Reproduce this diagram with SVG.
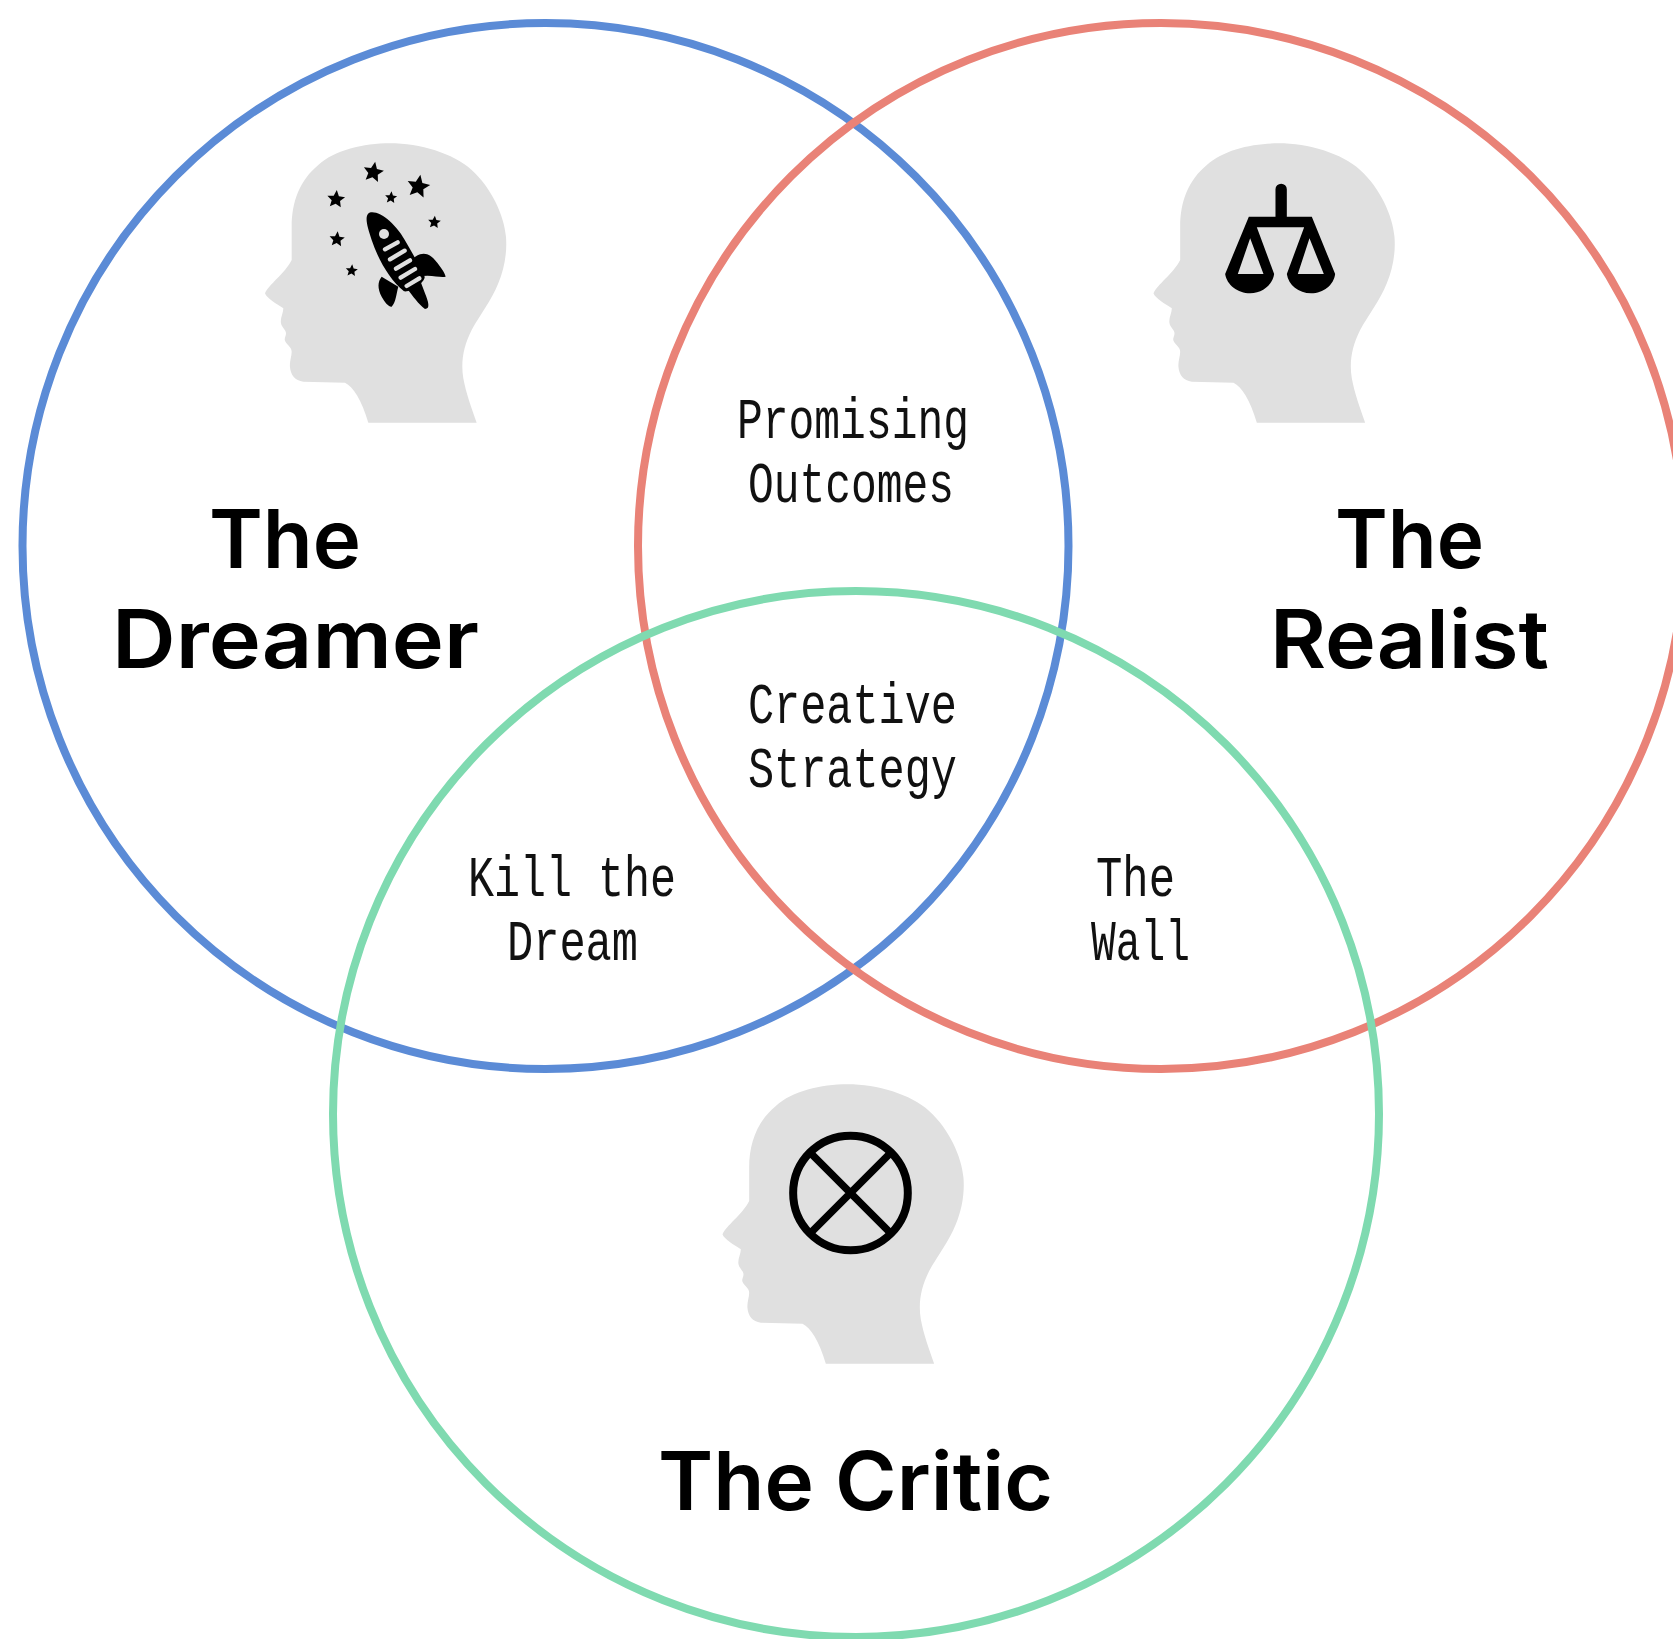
<svg xmlns="http://www.w3.org/2000/svg" width="1673" height="1639" viewBox="0 0 1673 1639">
<style>
.ring{fill:none;stroke-width:8}
.head{fill:#e0e0e0}
.ink{fill:#000}
.title{font-family:"Inter","Liberation Sans",sans-serif;font-weight:600;font-size:81px;fill:#000}
.lab{font-family:"Liberation Mono","DejaVu Sans Mono",monospace;font-size:58px;fill:#111}
</style>
<defs>
<path id="headShape" d="M355,878 L680,878 C665,835 648,790 640,745 C632,695 640,650 665,600 C690,555 725,510 745,460 C762,420 772,370 768,320 C762,255 725,175 665,120 C610,70 510,40 420,40 C340,40 255,60 205,105 C150,150 125,215 125,290 L125,390 C105,430 55,465 45,490 C50,505 80,522 100,535 C100,550 90,565 93,580 C95,592 108,600 108,610 C108,620 102,625 105,632 C110,645 125,650 125,665 C125,680 118,695 120,712 C122,735 135,752 160,755 L285,758 C310,770 335,810 355,878 Z"/>
<polygon id="star" points="0,-1 0.28,-0.36 0.951,-0.309 0.45,0.15 0.588,0.809 0,0.47 -0.588,0.809 -0.45,0.15 -0.951,-0.309 -0.28,-0.36"/>
</defs>
<rect width="1673" height="1639" fill="#fff"/>
<g id="connectors">
<circle class="ring" cx="545.5" cy="546" r="523" stroke="#5b8bd6"/>
<circle class="ring" cx="1161" cy="546" r="523" stroke="#e98277"/>
<circle class="ring" cx="856" cy="1114" r="523" stroke="#7fdab0"/>
</g>
<g id="dreamer-head" transform="translate(250,130) scale(.3333)">
<use href="#headShape" class="head"/>
<g class="ink">
<use href="#star" transform="translate(370,127) rotate(10) scale(32)"/>
<use href="#star" transform="translate(505,170) rotate(10) scale(36)"/>
<use href="#star" transform="translate(258,208) rotate(5) scale(28)"/>
<use href="#star" transform="translate(423,203) rotate(5) scale(19)"/>
<use href="#star" transform="translate(553,277) rotate(5) scale(20)"/>
<use href="#star" transform="translate(261,328) rotate(5) scale(24)"/>
<use href="#star" transform="translate(305,422) rotate(5) scale(19)"/>
<path d="M358,248 C385,238 440,280 470,340 C492,378 512,412 524,440 C526,455 485,488 462,484 C420,450 385,390 365,330 C352,290 342,258 358,248 Z"/>
<path d="M490,385 C510,368 530,365 550,385 C568,405 585,428 587,440 C570,445 545,432 505,440 Z"/>
<path d="M395,440 C383,455 382,475 395,500 C405,518 418,532 425,530 C438,515 438,495 445,470 Z"/>
<path d="M470,475 C490,500 505,522 525,537 C542,537 535,515 525,490 L510,450 Z"/>
</g>
<g fill="none" stroke="#e0e0e0" stroke-width="13" stroke-linecap="round">
<path d="M405,358 L443,337 M420,388 L464,362 M438,416 L480,391 M452,443 L495,417 M470,468 L508,445"/>
</g>
<circle cx="402" cy="312" r="15" fill="#e0e0e0"/>
</g>
<g id="realist-head" transform="translate(1138.5,130) scale(.3333)">
<use href="#headShape" class="head"/>
<g class="ink">
<path d="M411,178 a17,17 0 0 1 34,0 V260 H520 L590,432 C586,465 555,490 518,490 C480,490 450,465 445,432 L497,292 H355 L407,432 C402,465 372,490 335,490 C298,490 265,465 260,432 L331,260 H411 Z M335,325 L298,432 H375 Z M513,325 L478,432 H556 Z" fill-rule="evenodd"/>
</g>
</g>
<g id="critic-head" transform="translate(707.5,1071) scale(.3333)">
<use href="#headShape" class="head"/>
<g fill="none" stroke="#000">
<circle cx="429" cy="366" r="172" stroke-width="24"/>
<path d="M311,248 L547,484 M547,248 L311,484" stroke-width="22"/>
</g>
</g>
<g id="dreamer-label"><text class="title" x="209" y="568" textLength="152" lengthAdjust="spacingAndGlyphs">The</text><text class="title" x="112" y="668" textLength="367" lengthAdjust="spacingAndGlyphs">Dreamer</text></g>
<g id="realist-label"><text class="title" x="1335" y="568" textLength="149" lengthAdjust="spacingAndGlyphs">The</text><text class="title" x="1270" y="668" textLength="279" lengthAdjust="spacingAndGlyphs">Realist</text></g>
<g id="critic-label"><text class="title" x="658" y="1510" textLength="395" lengthAdjust="spacingAndGlyphs">The Critic</text></g>
<g id="promising-outcomes"><text class="lab" x="737" y="438" textLength="232" lengthAdjust="spacingAndGlyphs">Promising</text><text class="lab" x="748" y="502" textLength="206" lengthAdjust="spacingAndGlyphs">Outcomes</text></g>
<g id="creative-strategy"><text class="lab" x="748" y="723" textLength="209" lengthAdjust="spacingAndGlyphs">Creative</text><text class="lab" x="748" y="787" textLength="209" lengthAdjust="spacingAndGlyphs">Strategy</text></g>
<g id="kill-the-dream"><text class="lab" x="468" y="896" textLength="208" lengthAdjust="spacingAndGlyphs">Kill the</text><text class="lab" x="507" y="960" textLength="131" lengthAdjust="spacingAndGlyphs">Dream</text></g>
<g id="the-wall"><text class="lab" x="1096" y="896" textLength="79" lengthAdjust="spacingAndGlyphs">The</text><text class="lab" x="1091" y="960" textLength="99" lengthAdjust="spacingAndGlyphs">Wall</text></g>
</svg>
